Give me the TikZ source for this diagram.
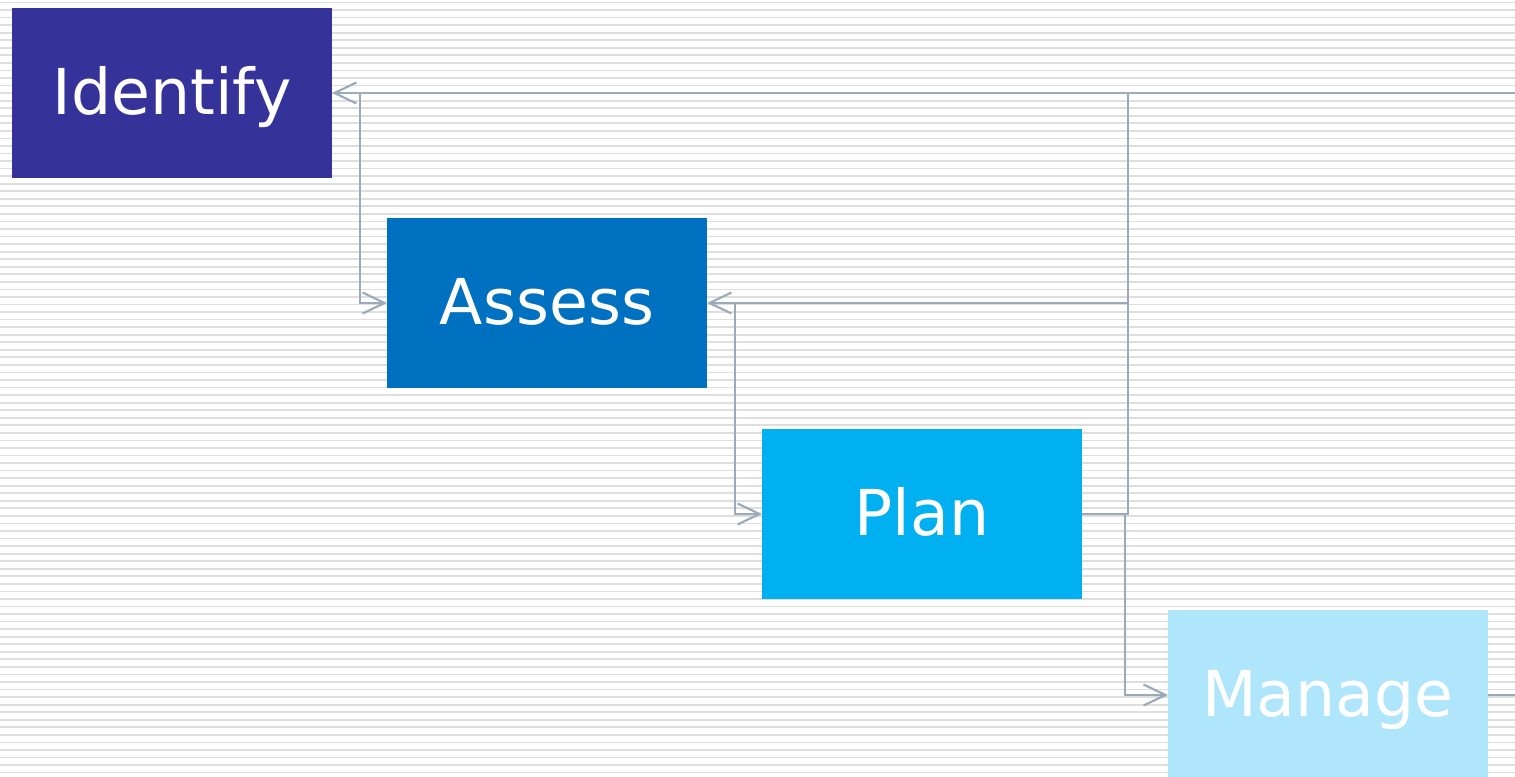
\documentclass[tikz,border=0pt]{standalone}
\usepackage{fontspec}
\setmainfont{DejaVu Sans}
\usetikzlibrary{arrows.meta, backgrounds, positioning}
\definecolor{identblue}{RGB}{53,51,153}
\definecolor{assessblue}{RGB}{0,112,192}
\definecolor{planblue}{RGB}{0,176,240}
\definecolor{manageblue}{RGB}{176,230,251}
\definecolor{linkgray}{RGB}{154,170,187}
\definecolor{stripegray}{RGB}{222,222,222}
\tikzstyle{stage}=[rectangle, minimum width=3.2cm, minimum height=1.7cm, inner sep=0pt, outer sep=0pt, text=white, font=\fontsize{18}{18}\selectfont, text height=12.5pt, text depth=0.5pt]
\tikzstyle{link}=[draw=linkgray, line width=0.6pt]
\tikzstyle{feed}=[link, -{Straight Barb[length=0.22cm, width=0.21cm, line width=0.6pt]}]
\tikzstyle{stripe}=[draw=stripegray, line width=0.5pt]

\begin{document}
\begin{tikzpicture}
      \useasboundingbox (0,0) rectangle (15.15,-7.76);
      \fill[white] (0,0) rectangle (15.15,-7.76);
      \foreach \k in {0,...,102}
         \draw[stripe] (0,{-0.025-0.0755*\k}) -- (15.15,{-0.025-0.0755*\k});

      \node[stage, fill=identblue] (identify) at (1.72,-0.93) {Identify};
      \node[stage, fill=assessblue] (assess) [below right=0.4cm and 0.55cm of identify] {Assess};
      \node[stage, fill=planblue] (plan) [below right=0.41cm and 0.55cm of assess] {Plan};
      \node[stage, fill=manageblue] (manage) [below right=0.11cm and 0.86cm of plan] {Manage};

      \coordinate (hub) at ([xshift=0.46cm]plan.east);
      \coordinate (topout) at (15.15,0 |- identify.east);
      \coordinate (botout) at (15.15,0 |- manage.east);

      \draw[feed] (topout) -- (identify.east);
      \draw[feed] ([xshift=0.28cm]identify.east) |- (assess.west);
      \draw[link] (plan.east) -- (hub) -- (hub |- identify.east);
      \draw[feed] (hub |- assess.east) -- (assess.east);
      \draw[feed] ([xshift=0.28cm]assess.east) |- (plan.west);
      \draw[feed] ([xshift=0.43cm]plan.east) |- (manage.west);
      \draw[link] (manage.east) -- (botout);
\end{tikzpicture}
\end{document}
